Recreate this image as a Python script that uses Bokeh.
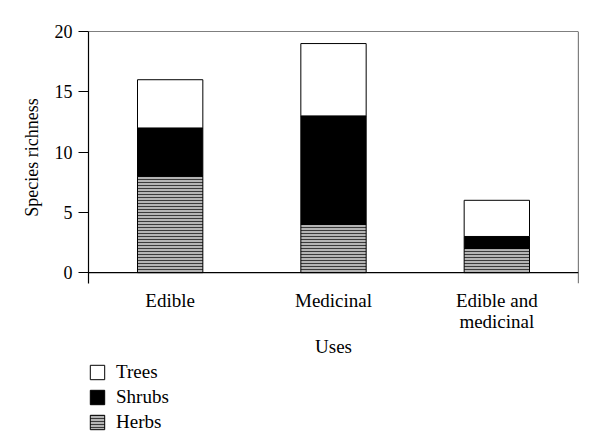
import numpy as np
from bokeh.plotting import figure
from bokeh.layouts import column
from bokeh.models import Span, FixedTicker, Legend, LegendItem, Range1d
from bokeh.embed import file_html
from bokeh.resources import INLINE

categories = ["Edible", "Medicinal", "Edible and\nmedicinal"]
herbs = [8, 4, 2]
shrubs = [4, 9, 1]
trees = [4, 6, 3]
y_ticks = [0, 5, 10, 15, 20]
series_names = ["Trees", "Shrubs", "Herbs"]

FONT = "Liberation Serif"
W = 592
H1 = 359
H2 = 81

xs = [i + 0.5 for i in range(len(categories))]
h = np.array(herbs, dtype=float)
s = np.array(shrubs, dtype=float)
t = np.array(trees, dtype=float)

herb_style = dict(fill_color="#b4b4b4", line_color="black", line_width=1,
                  hatch_pattern="horizontal_line", hatch_color="#3a3a3a",
                  hatch_scale=3, hatch_weight=1)
shrub_style = dict(fill_color="black", line_color="black", line_width=1)
tree_style = dict(fill_color="white", line_color="black", line_width=1)

p = figure(width=W, height=H1, output_backend="svg", toolbar_location=None,
           x_range=Range1d(0, len(categories)), y_range=Range1d(-0.9, 20),
           min_border_left=88, min_border_right=14, min_border_top=31,
           min_border_bottom=H1 - 283)
p.outline_line_color = None
p.grid.visible = False

p.vbar(x=xs, bottom=0, top=h, width=0.4, **herb_style)
p.vbar(x=xs, bottom=h, top=h + s, width=0.4, **shrub_style)
p.vbar(x=xs, bottom=h + s, top=h + s + t, width=0.4, **tree_style)

for loc, dim in [(0, "width"), (20, "width"), (len(categories), "height")]:
    p.add_layout(Span(location=loc, dimension=dim, line_color="black", line_width=1.2))

ya = p.yaxis[0]
ya.ticker = FixedTicker(ticks=y_ticks)
ya.minor_tick_line_color = None
ya.major_tick_out = 10
ya.major_tick_in = 0
ya.axis_line_width = 1.2
ya.major_tick_line_width = 1.2
ya.major_label_text_font = FONT
ya.major_label_text_font_size = "18px"
ya.major_label_text_color = "black"
ya.major_label_standoff = 6
ya.axis_label = "Species richness"
ya.axis_label_text_font = FONT
ya.axis_label_text_font_size = "18px"
ya.axis_label_text_font_style = "normal"
ya.axis_label_text_color = "black"
ya.axis_label_standoff = 10

xa = p.xaxis[0]
xa.ticker = FixedTicker(ticks=xs)
xa.major_label_overrides = {x: c for x, c in zip(xs, categories)}
xa.axis_line_color = None
xa.major_tick_line_color = None
xa.minor_tick_line_color = None
xa.major_label_text_font = FONT
xa.major_label_text_font_size = "19px"
xa.major_label_text_line_height = 1.0
xa.major_label_text_color = "black"
xa.major_label_standoff = 0
xa.axis_label = "Uses"
xa.axis_label_text_font = FONT
xa.axis_label_text_font_size = "19px"
xa.axis_label_text_font_style = "normal"
xa.axis_label_text_color = "black"
xa.axis_label_standoff = 1

# legend strip below the chart; swatch renderers are hidden, legend shows them normally
q = figure(width=W, height=H2, output_backend="svg", toolbar_location=None,
           x_range=Range1d(0, 1), y_range=Range1d(0, 1),
           x_axis_location=None, y_axis_location=None, min_border=0)
q.outline_line_color = None
q.grid.visible = False
rt = q.vbar(x=[0.5], top=[1], width=0.1, visible=False, **tree_style)
rs = q.vbar(x=[0.5], top=[1], width=0.1, visible=False, **shrub_style)
rh = q.vbar(x=[0.5], top=[1], width=0.1, visible=False, **herb_style)
legend = Legend(items=[LegendItem(label=n, renderers=[r]) for n, r in zip(series_names, [rt, rs, rh])],
                location=(0, H2 - 74), orientation="vertical",
                glyph_width=18, glyph_height=18, label_height=18, spacing=3, padding=0, margin=0,
                label_text_font=FONT, label_text_font_size="19px", label_text_color="black",
                label_standoff=10, border_line_color=None, background_fill_alpha=0,
                inactive_fill_alpha=0)
q.add_layout(legend, "center")

open("out.html", "w").write(file_html(column(p, q, spacing=0), INLINE))
